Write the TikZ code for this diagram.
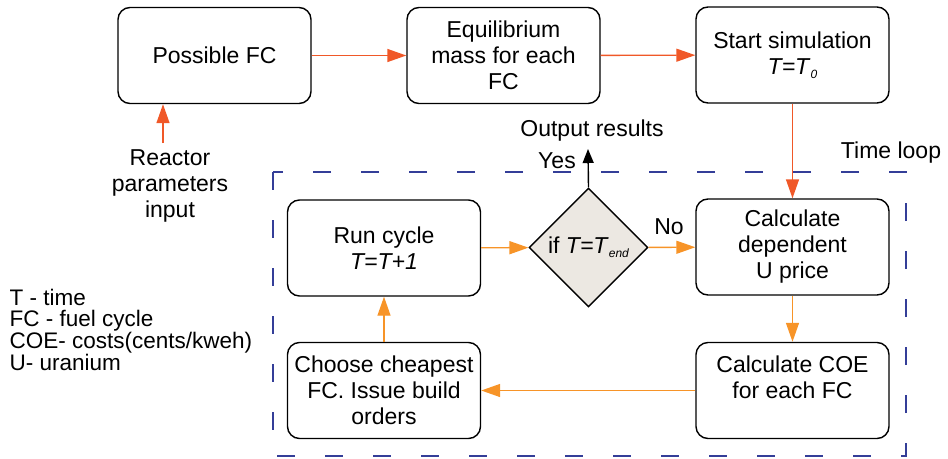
\documentclass[tikz,border=0pt]{standalone}
\usepackage{fontspec}
\setmainfont{Liberation Sans}
\usetikzlibrary{shapes.geometric,arrows.meta}

\definecolor{redorange}{RGB}{240,88,40}
\definecolor{lightorange}{RGB}{247,148,40}
\definecolor{loopblue}{RGB}{52,62,152}
\definecolor{decgray}{RGB}{236,232,226}
\newcommand{\lowsub}[1]{\raisebox{-0.35ex}{\fontsize{12}{12}\selectfont\itshape #1}}

\begin{document}
\begin{tikzpicture}[x=1pt, y=-1pt, line width=1.4pt,
  every node/.style={font=\fontsize{23}{26}\selectfont},
  box/.style={draw, rounded corners=12pt, minimum width=193pt, minimum height=96pt,
    align=center, inner sep=1pt},
  decision/.style={draw, diamond, fill=decgray, minimum width=119pt,
    minimum height=119pt, inner sep=0pt},
  redarrow/.style={redorange, -{Triangle[length=19pt,width=13pt]}},
  orangearrow/.style={lightorange, -{Triangle[length=19pt,width=13pt]}},
  loopframe/.style={loopblue, line width=1.2pt, dash pattern=on 18pt off 30pt}]
  \useasboundingbox (0,0) rectangle (948,458);

  % top row
  \node[box] (fc)    at (214.5,55.5) {Possible FC};
  \node[box] (eq)    at (503.5,55.5) {Equilibrium\\mass for each\\FC};
  \node[box] (start) at (792.5,55)   {Start simulation\\\textit{T=T}\lowsub{0}};

  % time loop
  \draw[loopframe] (273,172) rectangle (906,456);
  \node (loop) at (891,153) {Time loop};

  \node[box] (run)    at (384,248)   {Run cycle\\\textit{T=T+1}};
  \node[decision] (dec) at (588.5,247.5) {};
  \node (dectext) at (dec) {if \textit{T=T}\lowsub{end}};
  \node[box] (dep)    at (792.5,247) {Calculate\\dependent\\U price};
  \node[box] (coe)    at (792.5,390.5) {Calculate COE\\for each FC\\ };
  \node[box] (choose) at (384,390.5) {Choose cheapest\\ FC. Issue build\\orders};

  % inputs, outputs, legend
  \node (reactor) at (170,186) [align=center] {Reactor\\parameters\\input};
  \coordinate (rin) at (163,143);
  \coordinate (outres) at (588,149);
  \node (output) at (592,131) {Output results};
  \node (yes) at (557,161) {Yes};
  \node (no)  at (669,227) {No};
  \node[anchor=west, align=left, inner sep=1pt, font=\fontsize{22.5}{20.5}\selectfont] (legend) at (8,330)
    {T - time\\FC - fuel cycle\\COE- costs(cents/kweh)\\U- uranium};

  % connectors
  \draw[redarrow] (rin) -- (rin |- fc.south);
  \draw[redarrow] (fc) -- (eq);
  \draw[redarrow] (eq) -- (start);
  \draw[redarrow] (start) -- (dep);
  \draw[orangearrow] (run) -- (dec);
  \draw[orangearrow] (dec) -- (dep);
  \draw[orangearrow] (dep) -- (coe);
  \draw[orangearrow] (coe) -- (choose);
  \draw[orangearrow] (choose) -- (run);
  \draw[-{Triangle[length=14pt,width=11pt]}] (dec.north) -- (outres);
\end{tikzpicture}
\end{document}
